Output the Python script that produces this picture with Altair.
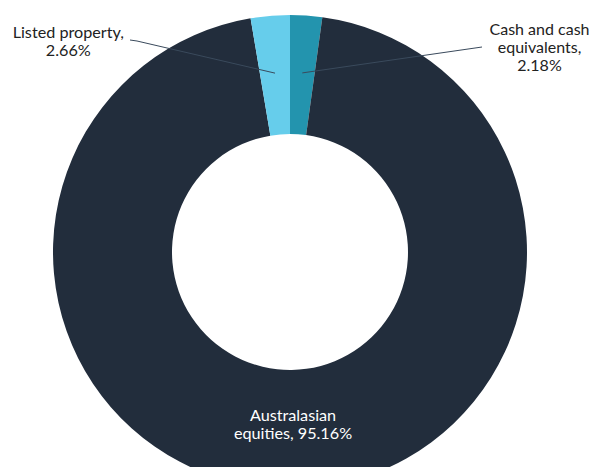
import math
import altair as alt
import pandas as pd

# Data
categories = ["Cash and cash equivalents", "Australasian equities", "Listed property"]
values = [2.18, 95.16, 2.66]
colors = ["#2394ae", "#222d3c", "#66cdeb"]
label_texts = ["Cash and cash\nequivalents,\n2.18%", "Australasian\nequities, 95.16%", "Listed property,\n2.66%"]

W, H = 581, 459
CX, CY = 282, 244
R_IN, R_OUT = 118, 237

df = pd.DataFrame({"category": categories, "value": values, "order": list(range(len(values)))})

arc = alt.Chart(df).mark_arc(innerRadius=R_IN, outerRadius=R_OUT, stroke=None).encode(
    theta=alt.Theta("value:Q", stack=True),
    color=alt.Color("category:N", scale=alt.Scale(domain=categories, range=colors), legend=None),
    order=alt.Order("order:Q"),
    x=alt.value(CX),
    y=alt.value(CY),
)

# leader lines: inner end at mid-radius / mid-angle of each small slice
total = sum(values)
cum = 0
mids = []
for v in values:
    mids.append((cum + v / 2) / total * 2 * math.pi)
    cum += v
rmid = (R_IN + R_OUT) / 2 + 2

def pt(a):
    return CX + rmid * math.sin(a), CY - rmid * math.cos(a)

cx0, cy0 = pt(mids[0])
lx0, ly0 = pt(mids[2])
lines = pd.DataFrame({
    "x": [cx0, 474, 122, 129, lx0],
    "y": [cy0, 39, 32, 33, ly0],
    "g": ["cash", "cash", "lp", "lp", "lp"],
    "o": [0, 1, 0, 1, 2],
})
xs = alt.Scale(domain=[0, W], range=[0, W])
ys = alt.Scale(domain=[0, H], range=[0, H])
leader = alt.Chart(lines).mark_line(color="#3a4a5c", strokeWidth=1).encode(
    x=alt.X("x:Q", scale=xs, axis=None),
    y=alt.Y("y:Q", scale=ys, axis=None),
    detail="g:N",
    order="o:Q",
)

def label(txt, x, y, color, size=16.2):
    return alt.Chart(pd.DataFrame({"t": [txt]})).mark_text(
        font="Lato", fontSize=size, color=color, align="center", baseline="middle",
        lineBreak="\n", lineHeight=18,
    ).encode(text="t:N", x=alt.value(x), y=alt.value(y))

t_cash = label(label_texts[0], 531.5, 22, "#222222", 16)
t_aus = label(label_texts[1], 285, 408, "#ffffff")
t_lp = label(label_texts[2], 60.3, 25, "#222222")

chart = alt.layer(arc, leader, t_cash, t_aus, t_lp).properties(
    width=W, height=H, autosize=alt.AutoSizeParams(type="none"), padding=0,
).configure_view(stroke=None)

chart.save("out.html", embed_options={"renderer": "svg", "actions": False})
